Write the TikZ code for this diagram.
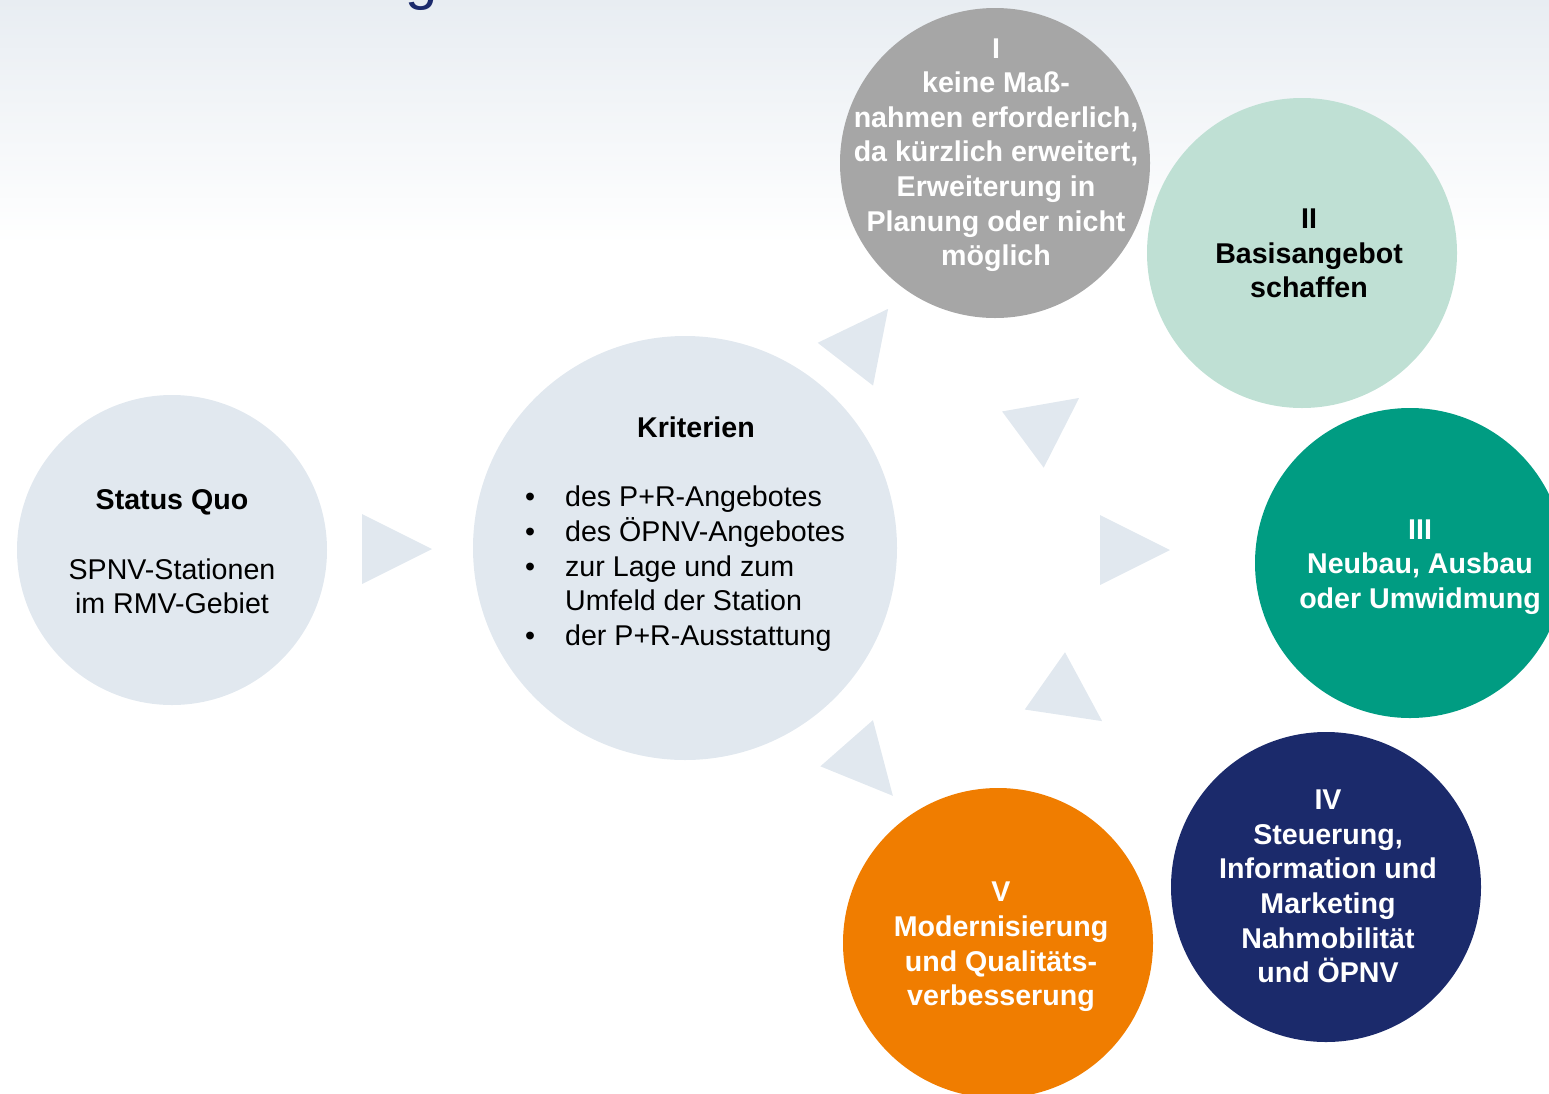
\documentclass[tikz,border=0pt]{standalone}
\usepackage{fontspec}
\setmainfont{Liberation Sans}

\definecolor{paleblue}{HTML}{E1E8EF}
\definecolor{fadetop}{HTML}{E8EDF2}
\definecolor{optgrey}{HTML}{A6A6A6}
\definecolor{mint}{HTML}{BFE0D4}
\definecolor{teal}{HTML}{009C82}
\definecolor{navy}{HTML}{1B2A6B}
\definecolor{orange}{HTML}{F07D00}

\tikzset{
  disc/.style={circle, minimum size=310pt, inner sep=0pt, fill=#1},
  txt/.style={align=center, inner sep=0pt, font=\fontsize{28.6}{34.6}\selectfont},
  opt/.style={align=center, inner sep=0pt, text=#1, font=\bfseries\fontsize{28.6}{34.6}\selectfont},
  tri/.style={fill=paleblue}
}

\begin{document}
\begin{tikzpicture}[x=1pt,y=-1pt]
\useasboundingbox (0,0) rectangle (1549,1093);
\shade[top color=fadetop, bottom color=white] (0,0) rectangle (1549,245);
\node[text=navy, inner sep=0pt, font=\fontsize{58}{58}\selectfont, anchor=base] (title) at (422,-2) {g};

\node[disc=paleblue] (status) at (172,550) {};
\node[disc=paleblue, minimum size=424pt] (crit) at (685,548) {};
\foreach \name/\x/\y/\col in {optI/995/163/optgrey, optII/1302/253/mint, optIII/1410/563/teal, optIV/1326/887/navy, optV/998/943/orange}
  \node[disc=\col] (\name) at (\x,\y) {};

\foreach \cx/\cy/\ang in {397/549/0, 866.75/336.5/-52.3, 1051/418.75/-36.5, 1135/550/0, 1073.5/701/35.1, 869.75/769.5/48.7}
  \fill[tri] (\cx,\cy) ++(\ang:35) -- ++(\ang+153.43:78.26) -- ++(\ang-90:70) -- cycle;

\node[txt] (statustext) at (172,552) {\textbf{Status Quo}\\[34.6pt]SPNV-Stationen\\im RMV-Gebiet};
\node[txt, font=\bfseries\fontsize{28.6}{34.6}\selectfont] (crittitle) at (696,427) {Kriterien};
\node[txt, align=left, anchor=north west] (critlist) at (525,486)
  {\makebox[40pt][l]{•}des P+R-Angebotes\\
   \makebox[40pt][l]{•}des ÖPNV-Angebotes\\
   \makebox[40pt][l]{•}zur Lage und zum\\
   \hspace*{40pt}Umfeld der Station\\
   \makebox[40pt][l]{•}der P+R-Ausstattung};

\node[opt=white] (textI) at (996,155) {I\\keine Maß-\\nahmen erforderlich,\\da kürzlich erweitert,\\Erweiterung in\\Planung oder nicht\\möglich};
\node[opt=black] (textII) at (1309,253.5) {II\\Basisangebot\\schaffen};
\node[opt=white] (textIII) at (1420,567) {III\\Neubau, Ausbau\\oder Umwidmung};
\node[opt=white] (textIV) at (1328,886.5) {IV\\Steuerung,\\Information und\\Marketing\\Nahmobilität\\und ÖPNV};
\node[opt=white] (textV) at (1001,947) {V\\Modernisierung\\und Qualitäts-\\verbesserung};
\end{tikzpicture}
\end{document}
